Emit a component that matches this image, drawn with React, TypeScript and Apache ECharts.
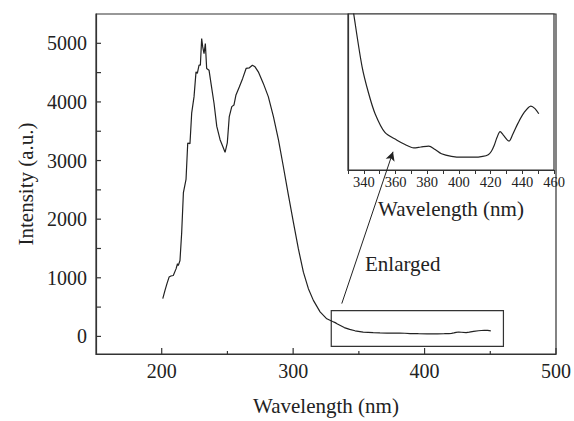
import React, { useEffect, useRef } from "react";
import * as echarts from "echarts";

const wavelengths = [
  200.8, 202.5, 204, 205.6, 207, 208.8, 210.9, 212, 212.6, 213.9, 215.2, 216.5, 218.5, 219.8, 221.5,
  222.8, 224.6, 226.1, 227.1, 228.4, 229.4, 230.4, 231.2, 232.2, 233.2, 234.2, 236, 237.5, 239.8,
  241.9, 244.4, 246.4, 248.2, 249.9, 251.4, 253.3, 255, 256.5, 259.1, 261.6, 264.2, 266.7, 269, 271,
  273.5, 277.3, 281.1, 285, 288.8, 292.5, 296.3, 300.2, 304, 307.8, 311.6, 315.4, 320.5, 325.6, 330,
  332, 333.7, 338.9, 343, 347.1, 353.3, 360.9, 366, 371.5, 376, 380.9, 385, 389, 395.3, 402, 409.7,
  415, 418.5, 420.5, 422.3, 424, 426, 428, 431.6, 434, 437.3, 441, 445.4, 448, 450.4,
];
const intensities = [
  644, 785, 900, 1012, 1030, 1039, 1152, 1240, 1208, 1294, 1774, 2452, 2678, 3300, 3288,
  3808, 4090, 4513, 4486, 4627, 4627, 5080, 4938, 4825, 4995, 4571, 4542, 4316, 3978,
  3582, 3356, 3243, 3141, 3300, 3751, 3920, 3949, 4119, 4260, 4401, 4571, 4582, 4627, 4599,
  4513, 4316, 4090, 3751, 3356, 2903, 2424, 1944, 1492, 1096, 814, 615, 419, 300, 255,
  235, 212, 151, 120, 96, 74, 65, 60, 56, 57, 58, 54, 49, 46, 45, 45,
  46, 48, 52, 59, 68, 75, 71, 64, 72, 85, 97, 105, 102, 96,
];

const mainXLabels = [200, 300, 400, 500];
const mainXMinor = [250, 350, 450];
const mainYLabels = [0, 1000, 2000, 3000, 4000, 5000];
const mainYTicks = [0, 500, 1000, 1500, 2000, 2500, 3000, 3500, 4000, 4500, 5000];
const insetXLabels = [340, 360, 380, 400, 420, 440, 460];
const zoomBoxX = [329, 460];
const zoomBoxY = [-170, 440];
const arrowFrom = [337, 560];
const arrowTo = [376, 3150];

const FONT = "'Liberation Serif', 'Times New Roman', 'DejaVu Serif', serif";
const INK = "#222";

export default function App() {
  const ref = useRef<HTMLDivElement>(null);
  useEffect(() => {
    document.body.style.margin = "0";
    if (!ref.current) return;
    const chart = echarts.init(ref.current, null, { renderer: "svg" });
    const mainData = wavelengths.map((w, i) => [w, intensities[i]]);
    const insetData = mainData.filter((d) => d[0] >= 328);
    // kind: 0 = y tick, 1 = x major tick, 2 = x minor tick
    const tickData = [
      ...mainYTicks.map((v) => [v, 0]),
      ...mainXLabels.map((v) => [v, 1]),
      ...mainXMinor.map((v) => [v, 2]),
    ];
    const labelStyle = { fontFamily: FONT, color: INK, fontSize: 20 };
    const nameStyle = { fontFamily: FONT, color: INK, fontSize: 21 };
    const plain = (v: number) => String(v);
    chart.setOption({
      animation: false,
      backgroundColor: "#fff",
      grid: [
        { left: 96, top: 14, width: 460, height: 343, show: true, borderColor: "#333", borderWidth: 1.2, backgroundColor: "transparent" },
        { left: 348, top: 14, width: 206, height: 156, show: true, borderColor: "#333", borderWidth: 1.2, backgroundColor: "#fff" },
      ],
      xAxis: [
        {
          gridIndex: 0, type: "value", min: 150, max: 500,
          axisLine: { show: true, onZero: false, lineStyle: { color: "#333", width: 1.2 } },
          axisTick: { show: false },
          axisLabel: { ...labelStyle, customValues: mainXLabels, margin: 7, formatter: plain },
          splitLine: { show: false },
          name: "Wavelength (nm)", nameLocation: "middle", nameGap: 41,
          nameTextStyle: nameStyle,
        },
        {
          gridIndex: 1, type: "value", min: 330, max: 460, interval: 10,
          axisLine: { show: true, onZero: false, lineStyle: { color: "#333", width: 1.2 } },
          axisTick: { show: true, inside: false, length: 4, lineStyle: { color: "#333" } },
          axisLabel: {
            fontFamily: FONT, color: INK, fontSize: 14.5, margin: 4,
            formatter: (v: number) => (insetXLabels.includes(v) ? String(v) : ""),
          },
          splitLine: { show: false },
          name: "Wavelength (nm)", nameLocation: "middle", nameGap: 28,
          nameTextStyle: nameStyle,
        },
      ],
      yAxis: [
        {
          gridIndex: 0, type: "value", min: -300, max: 5500,
          axisLine: { show: true, onZero: false, lineStyle: { color: "#333", width: 1.2 } },
          axisTick: { show: false },
          axisLabel: { ...labelStyle, customValues: mainYLabels, margin: 9, formatter: plain },
          splitLine: { show: false },
          name: "Intensity (a.u.)", nameLocation: "middle", nameGap: 60,
          nameTextStyle: nameStyle,
        },
        {
          gridIndex: 1, type: "value", min: 30, max: 213,
          axisLine: { show: true, onZero: false, lineStyle: { color: "#333", width: 1.2 } },
          axisTick: { show: false },
          axisLabel: { show: false },
          splitLine: { show: false },
        },
      ],
      series: [
        {
          type: "line", xAxisIndex: 0, yAxisIndex: 0, data: mainData,
          showSymbol: false, symbol: "none", smooth: false, clip: true,
          lineStyle: { color: INK, width: 1.2 },
          markArea: {
            silent: true,
            itemStyle: { color: "rgba(0,0,0,0)", borderColor: "#333", borderWidth: 1.2 },
            data: [[{ coord: [zoomBoxX[0], zoomBoxY[0]] }, { coord: [zoomBoxX[1], zoomBoxY[1]] }]],
          },
          markLine: {
            silent: true, symbol: ["none", "arrow"], symbolSize: [7, 9],
            label: { show: false },
            lineStyle: { color: INK, width: 1, type: "solid" },
            data: [[{ coord: arrowFrom }, { coord: arrowTo }]],
          },
          z: 5,
        },
        {
          type: "line", xAxisIndex: 1, yAxisIndex: 1, data: insetData,
          showSymbol: false, symbol: "none", smooth: 0.3, clip: true,
          lineStyle: { color: INK, width: 1.2 },
        },
        {
          type: "custom", xAxisIndex: 0, yAxisIndex: 0, data: tickData, clip: false, silent: true, z: 6,
          renderItem: (params: any, api: any) => {
            const v = api.value(0);
            const kind = api.value(1);
            const cs = params.coordSys;
            if (kind === 0) {
              const y = api.coord([150, v])[1];
              return { type: "line", shape: { x1: cs.x, y1: y, x2: cs.x + 5, y2: y }, style: { stroke: "#333", lineWidth: 1.2 } };
            }
            const x = api.coord([v, 0])[0];
            const len = kind === 1 ? 6 : 3;
            const yb = cs.y + cs.height;
            return { type: "line", shape: { x1: x, y1: yb, x2: x, y2: yb - len }, style: { stroke: "#333", lineWidth: 1.2 } };
          },
        },
      ],
      graphic: [
        { type: "text", left: 365, top: 253, style: { text: "Enlarged", fontFamily: FONT, fontSize: 21, fill: INK } },
      ],
    });
    return () => chart.dispose();
  }, []);
  return <div ref={ref} style={{ width: 574, height: 421 }} />;
}
